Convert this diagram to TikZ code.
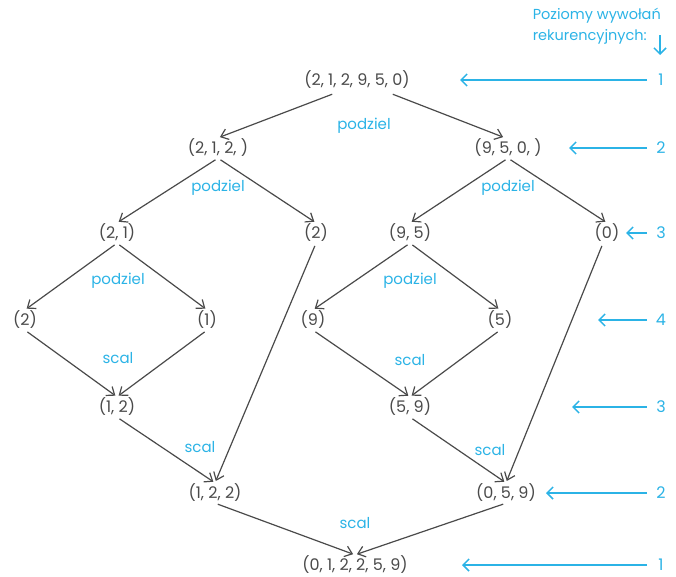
\documentclass[tikz,border=0pt]{standalone}
\usepackage{fontspec}
\setmainfont{Poppins}
\usetikzlibrary{arrows.meta}
\definecolor{cy}{HTML}{2BB3E6}
\definecolor{gr}{HTML}{4A4A4A}
\begin{document}
\begin{tikzpicture}[x=1pt,y=-1pt,
  lst/.style={text=gr,font=\fontsize{16}{18}\selectfont,inner sep=1pt},
  lab/.style={text=cy,font=\fontsize{15}{17}\selectfont,inner sep=0pt},
  num/.style={text=cy,font=\fontsize{16}{18}\selectfont,inner sep=0pt},
  edge/.style={draw=gr,line width=1.2pt,-{Straight Barb[length=7pt,width=11pt]},shorten <=3pt,shorten >=2pt},
  lvl/.style={draw=cy,line width=1.5pt,-{Straight Barb[length=6pt,width=12pt]}}]
\useasboundingbox (0,0) rectangle (676,576);
% nodes
\node[lst] (n1) at (357,80) {(2, 1, 2, 9, 5, 0)};
\node[lst] (n2a) at (218,148) {(2, 1, 2, )};
\node[lst] (n2b) at (508,148) {(9, 5, 0, )};
\node[lst] (n3a) at (117,233) {(2, 1)};
\node[lst] (n3b) at (316,233) {(2)};
\node[lst] (n3c) at (410,233) {(9, 5)};
\node[lst] (n3d) at (607,233) {(0)};
\node[lst] (n4a) at (25,320) {(2)};
\node[lst] (n4b) at (207,320) {(1)};
\node[lst] (n4c) at (313,320) {(9)};
\node[lst] (n4d) at (500,320) {(5)};
\node[lst] (m3a) at (117,407) {(1, 2)};
\node[lst] (m3b) at (410,407) {(5, 9)};
\node[lst] (m2a) at (215,493) {(1, 2, 2)};
\node[lst] (m2b) at (506,493) {(0, 5, 9)};
\node[lst] (m1) at (355,565) {(0, 1, 2, 2, 5, 9)};
% labels
\node[lab] (p1) at (364,126) {podziel};
\node[lab] (p2) at (218,188) {podziel};
\node[lab] (p3) at (508,188) {podziel};
\node[lab] (p4) at (118,281) {podziel};
\node[lab] (p5) at (410,281) {podziel};
\node[lab] (s1) at (118,358) {scal};
\node[lab] (s2) at (410,360) {scal};
\node[lab] (s3) at (200,447) {scal};
\node[lab] (s4) at (490,450) {scal};
\node[lab] (s5) at (355,523) {scal};
% edges
\draw[edge] ([xshift=-22pt,yshift=-3pt]n1.south) -- (n2a.north);
\draw[edge] ([xshift=33pt,yshift=-3pt]n1.south) -- ([xshift=-3pt]n2b.north);
\draw[edge] (n2a.south) -- (n3a.north);
\draw[edge] (n2a.south) -- (n3b.north);
\draw[edge] (n2b.south) -- (n3c.north);
\draw[edge] (n2b.south) -- (n3d.north);
\draw[edge] (n3a.south) -- (n4a.north);
\draw[edge] (n3a.south) -- (n4b.north);
\draw[edge] (n3c.south) -- (n4c.north);
\draw[edge] (n3c.south) -- (n4d.north);
\draw[edge] (n4a.south) -- (m3a.north);
\draw[edge] (n4b.south) -- (m3a.north);
\draw[edge] (n4c.south) -- (m3b.north);
\draw[edge] (n4d.south) -- (m3b.north);
\draw[edge] (m3a.south) -- (m2a.north);
\draw[edge] (n3b.south) -- (m2a.north);
\draw[edge] (m3b.south) -- (m2b.north);
\draw[edge] ([xshift=-4pt]n3d.south) -- (m2b.north);
\draw[edge] (m2a.south) -- (m1.north);
\draw[edge] (m2b.south) -- (m1.north);
% level indicators
\node[text=cy,font=\fontsize{14.5}{21}\selectfont,align=left,anchor=north east,inner sep=0pt] (hdr) at (661,8) {Poziomy wywołań\\rekurencyjnych:};
\coordinate (da) at (660,35);
\coordinate (db) at (660,55);
\draw[lvl] (da) -- (db);
\node[num] (l1) at (661,80) {1};
\node[num] (l2) at (661,148) {2};
\node[num] (l3) at (661,233) {3};
\node[num] (l4) at (661,320) {4};
\node[num] (l5) at (661,407) {3};
\node[num] (l6) at (661,493) {2};
\node[num] (l7) at (661,565) {1};
\coordinate (t1) at (460,80);
\coordinate (t2) at (569,148);
\coordinate (t3) at (626,233);
\coordinate (t4) at (598,320);
\coordinate (t5) at (572,407);
\coordinate (t6) at (546,493);
\coordinate (t7) at (462,565);
\draw[lvl] ([xshift=-14pt]l1.center) -- (t1);
\draw[lvl] ([xshift=-14pt]l2.center) -- (t2);
\draw[lvl] ([xshift=-14pt]l3.center) -- (t3);
\draw[lvl] ([xshift=-14pt]l4.center) -- (t4);
\draw[lvl] ([xshift=-14pt]l5.center) -- (t5);
\draw[lvl] ([xshift=-14pt]l6.center) -- (t6);
\draw[lvl] ([xshift=-14pt]l7.center) -- (t7);
\end{tikzpicture}
\end{document}
